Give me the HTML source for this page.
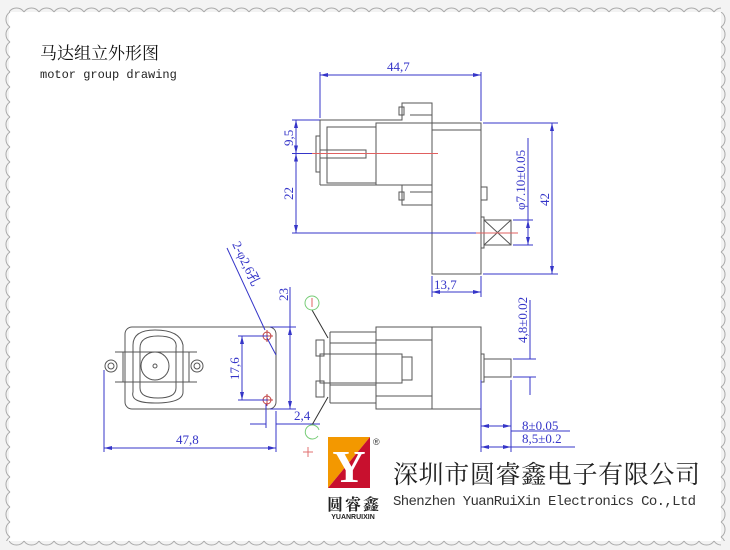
<!DOCTYPE html>
<html><head><meta charset="utf-8"><style>
html,body{margin:0;padding:0;background:#f3f3f3;}
svg{display:block;}
.b{stroke:#3535c8;stroke-width:1;fill:none;}
.d{stroke:#3535c8;stroke-width:1;fill:none;marker-start:url(#a1);marker-end:url(#a2);}
.k{stroke:#555;stroke-width:1;fill:none;}
.r{stroke:#e06060;stroke-width:1;fill:none;}
.t{fill:#3535c8;font-family:"Liberation Serif",serif;font-size:13px;}
</style></head><body>
<svg width="730" height="550" viewBox="0 0 730 550" xmlns="http://www.w3.org/2000/svg">
<defs>
<marker id="a2" markerWidth="8" markerHeight="6" refX="8" refY="3" orient="auto" markerUnits="userSpaceOnUse"><path d="M0,1 L8,3 L0,5 Z" fill="#3535c8"/></marker>
<marker id="a1" markerWidth="8" markerHeight="6" refX="0" refY="3" orient="auto" markerUnits="userSpaceOnUse"><path d="M8,1 L0,3 L8,5 Z" fill="#3535c8"/></marker>
<pattern id="pt" patternUnits="userSpaceOnUse" x="9" y="3" width="15" height="10"><path d="M0,9 A9,9 0 0 1 15,9" stroke="#aaa" fill="none"/></pattern>
<pattern id="pb" patternUnits="userSpaceOnUse" x="9" y="540" width="15" height="10"><path d="M0,1 A9,9 0 0 0 15,1" stroke="#aaa" fill="none"/></pattern>
<pattern id="pl" patternUnits="userSpaceOnUse" x="1" y="12" width="10" height="15"><path d="M9,0 A9,9 0 0 0 9,15" stroke="#aaa" fill="none"/></pattern>
<pattern id="pr" patternUnits="userSpaceOnUse" x="720" y="12" width="10" height="15"><path d="M1,0 A9,9 0 0 1 1,15" stroke="#aaa" fill="none"/></pattern>
</defs>
<rect x="9" y="12" width="712" height="529" fill="#fff"/>
<rect x="9" y="3" width="712" height="10" fill="url(#pt)"/>
<rect x="9" y="540" width="712" height="10" fill="url(#pb)"/>
<rect x="1" y="12" width="10" height="529" fill="url(#pl)"/>
<rect x="720" y="12" width="10" height="529" fill="url(#pr)"/>

<text x="40" y="59" font-family="'Liberation Serif','Noto Serif CJK SC',serif" font-size="17" fill="#111">马达组立外形图</text>
<text x="40" y="78" font-family="'Liberation Mono',monospace" font-size="12" fill="#222">motor group drawing</text>

<!-- top view -->
<g class="k">
<path d="M320,185 V120 H402 V103 H432 V123"/>
<rect x="327" y="127" width="49" height="56"/>
<rect x="376" y="123" width="56" height="62"/>
<rect x="432" y="123" width="49" height="151"/>
<line x1="432" y1="130" x2="481" y2="130"/>
<path d="M320,185 H402 V205 H432"/>
<rect x="399" y="107" width="5" height="8"/><rect x="399" y="192" width="5" height="8"/>
<line x1="410" y1="115" x2="432" y2="115"/><line x1="410" y1="192" x2="432" y2="192"/>
<rect x="316" y="136" width="4" height="36"/>
<rect x="320" y="150" width="46" height="8"/>
<rect x="481" y="187" width="6" height="13"/>
<rect x="481" y="217" width="3" height="31"/>
<rect x="484" y="220" width="27" height="25"/>
<path d="M484,220 L511,245 M511,220 L484,245"/>
</g>
<line class="r" x1="310" y1="153.5" x2="438" y2="153.5"/>
<line class="r" x1="473" y1="233" x2="518" y2="233"/>
<g class="b">
<path d="M320,72 V118 M481,72 V121"/>
<path d="M292,120 H320 M292,153.5 H312 M292,233 H476"/>
<path d="M483,123 H558 M483,274 H558"/>
<path d="M513,220 H533 M513,245 H533 M528,138 V220"/>
<path d="M432,276 V297 M481,276 V297"/>
</g>
<path class="d" d="M320,75 H481"/>
<path class="d" d="M296,120 V153.5"/>
<path class="d" d="M296,153.5 V233"/>
<path class="d" d="M552,123 V274"/>
<path class="d" d="M528,220 V245"/>
<path class="d" d="M432,292 H481"/>
<text class="t" x="387" y="71">44,7</text>
<text class="t" x="434" y="289">13,7</text>
<text class="t" transform="translate(293,146) rotate(-90)">9,5</text>
<text class="t" transform="translate(293,200) rotate(-90)">22</text>
<text class="t" transform="translate(549,206) rotate(-90)">42</text>
<text class="t" transform="translate(525,210) rotate(-90)">φ7.10±0.05</text>
<text class="t" transform="translate(527,343) rotate(-90)">4,8±0.02</text>

<!-- left end view -->
<g class="k">
<rect x="125" y="327" width="151" height="82" rx="7"/>
<path d="M133,345 Q133,330 155,330 Q180,330 183,345 V392 Q183,403 155,403 Q130,403 133,392 Z"/>
<path d="M140,348 Q140,336 158,336 Q178,336 176,348 V388 Q176,398 158,398 Q140,398 140,388 Z"/>
<path d="M115,352 H197 M115,382 H197 M123,352 V382 M189,352 V382"/>
<circle cx="111" cy="366" r="6"/><circle cx="111" cy="366" r="3"/>
<circle cx="197" cy="366" r="6"/><circle cx="197" cy="366" r="3"/>
<circle cx="155" cy="366" r="14"/><circle cx="155" cy="366" r="2"/>
</g>
<g stroke="#c04040" fill="none"><circle cx="267" cy="336" r="4"/><circle cx="267" cy="400" r="4"/>
<path d="M261,336 H273 M267,330 V342 M261,400 H273 M267,394 V406"/></g>
<g class="b">
<path d="M227,248 L265,330 M267,338 L276,355"/>
<path d="M238,336 H268 M238,400 H268"/>
<path d="M270,327 H296 M270,409 H296 M290,287 V327"/>
<path d="M104,370 V452 M276,411 V452"/>
<path d="M266,404 V428 M276,411 V428 M250,424 H266 M276,424 H320"/>
</g>
<path class="d" d="M242,336 V400"/>
<path class="d" d="M290,327 V409"/>
<path class="d" d="M104,448 H276"/>
<text class="t" transform="translate(239,380) rotate(-90)">17,6</text>
<text class="t" transform="translate(288,301) rotate(-90)">23</text>
<text class="t" x="176" y="444">47,8</text>
<text class="t" x="294" y="420">2,4</text>
<text class="t" font-size="12" transform="translate(232,244) rotate(64)">2-φ2,6孔</text>

<!-- front view -->
<g class="k">
<rect x="432" y="327" width="49" height="82"/>
<rect x="376" y="327" width="56" height="82"/>
<path d="M376,340 H432 M376,396 H432"/>
<path d="M330,332 H376 M330,343 H376 M330,385 H376 M330,403 H376 M330,332 V403"/>
<rect x="320" y="354" width="82" height="29"/>
<rect x="402" y="357" width="10" height="23"/>
<rect x="316" y="340" width="8" height="16"/><rect x="316" y="381" width="8" height="16"/>
<rect x="481" y="354" width="3" height="28"/>
<rect x="484" y="359" width="27" height="18"/>
</g>
<g class="b">
<path d="M513,359 H536 M513,377 H536 M530,300 V359 M530,377 V395"/>
<path d="M481,380 V452 M511,380 V452 M511,447 H575 M511,431 H570"/>
</g>
<path class="d" d="M481,426 H511"/>
<path class="d" d="M481,447 H511"/>
<text class="t" x="522" y="430">8±0.05</text>
<text class="t" x="522" y="443">8,5±0.2</text>
<g stroke="#333" fill="none"><path d="M312,310 L328,338 M312,425 L328,397"/></g>
<circle cx="312" cy="303" r="7" stroke="#7c7" fill="none"/>
<line x1="312" y1="298" x2="312" y2="307" stroke="#e06060"/>
<path d="M319,430 A7,7 0 1 0 318,436" stroke="#7c7" fill="none"/>
<path d="M303,452 H313 M308,447 V457" stroke="#e07070"/>

<!-- logo -->
<polygon points="328,437 370,437 328,488" fill="#f39800"/>
<polygon points="370,437 370,488 328,488" fill="#c8102e"/>
<text x="349" y="482" font-family="'Liberation Serif',serif" font-size="46" font-weight="bold" fill="#fff" text-anchor="middle">Y</text>
<text x="373" y="445" font-family="'Liberation Sans',sans-serif" font-size="9" fill="#333">®</text>
<text x="327" y="510" font-family="'Liberation Serif','Noto Serif CJK SC',serif" font-size="16" font-weight="bold" fill="#222" letter-spacing="2">圆睿鑫</text>
<text x="353" y="519" font-family="'Liberation Sans',sans-serif" font-size="7" font-weight="bold" fill="#222" text-anchor="middle">YUANRUIXIN</text>
<text x="393" y="483" font-family="'Liberation Serif','Noto Serif CJK SC',serif" font-size="25" fill="#222" textLength="307">深圳市圆睿鑫电子有限公司</text>
<text x="393" y="505" font-family="'Liberation Mono',monospace" font-size="14" fill="#333" textLength="303">Shenzhen YuanRuiXin Electronics Co.,Ltd</text>
</svg>
</body></html>
